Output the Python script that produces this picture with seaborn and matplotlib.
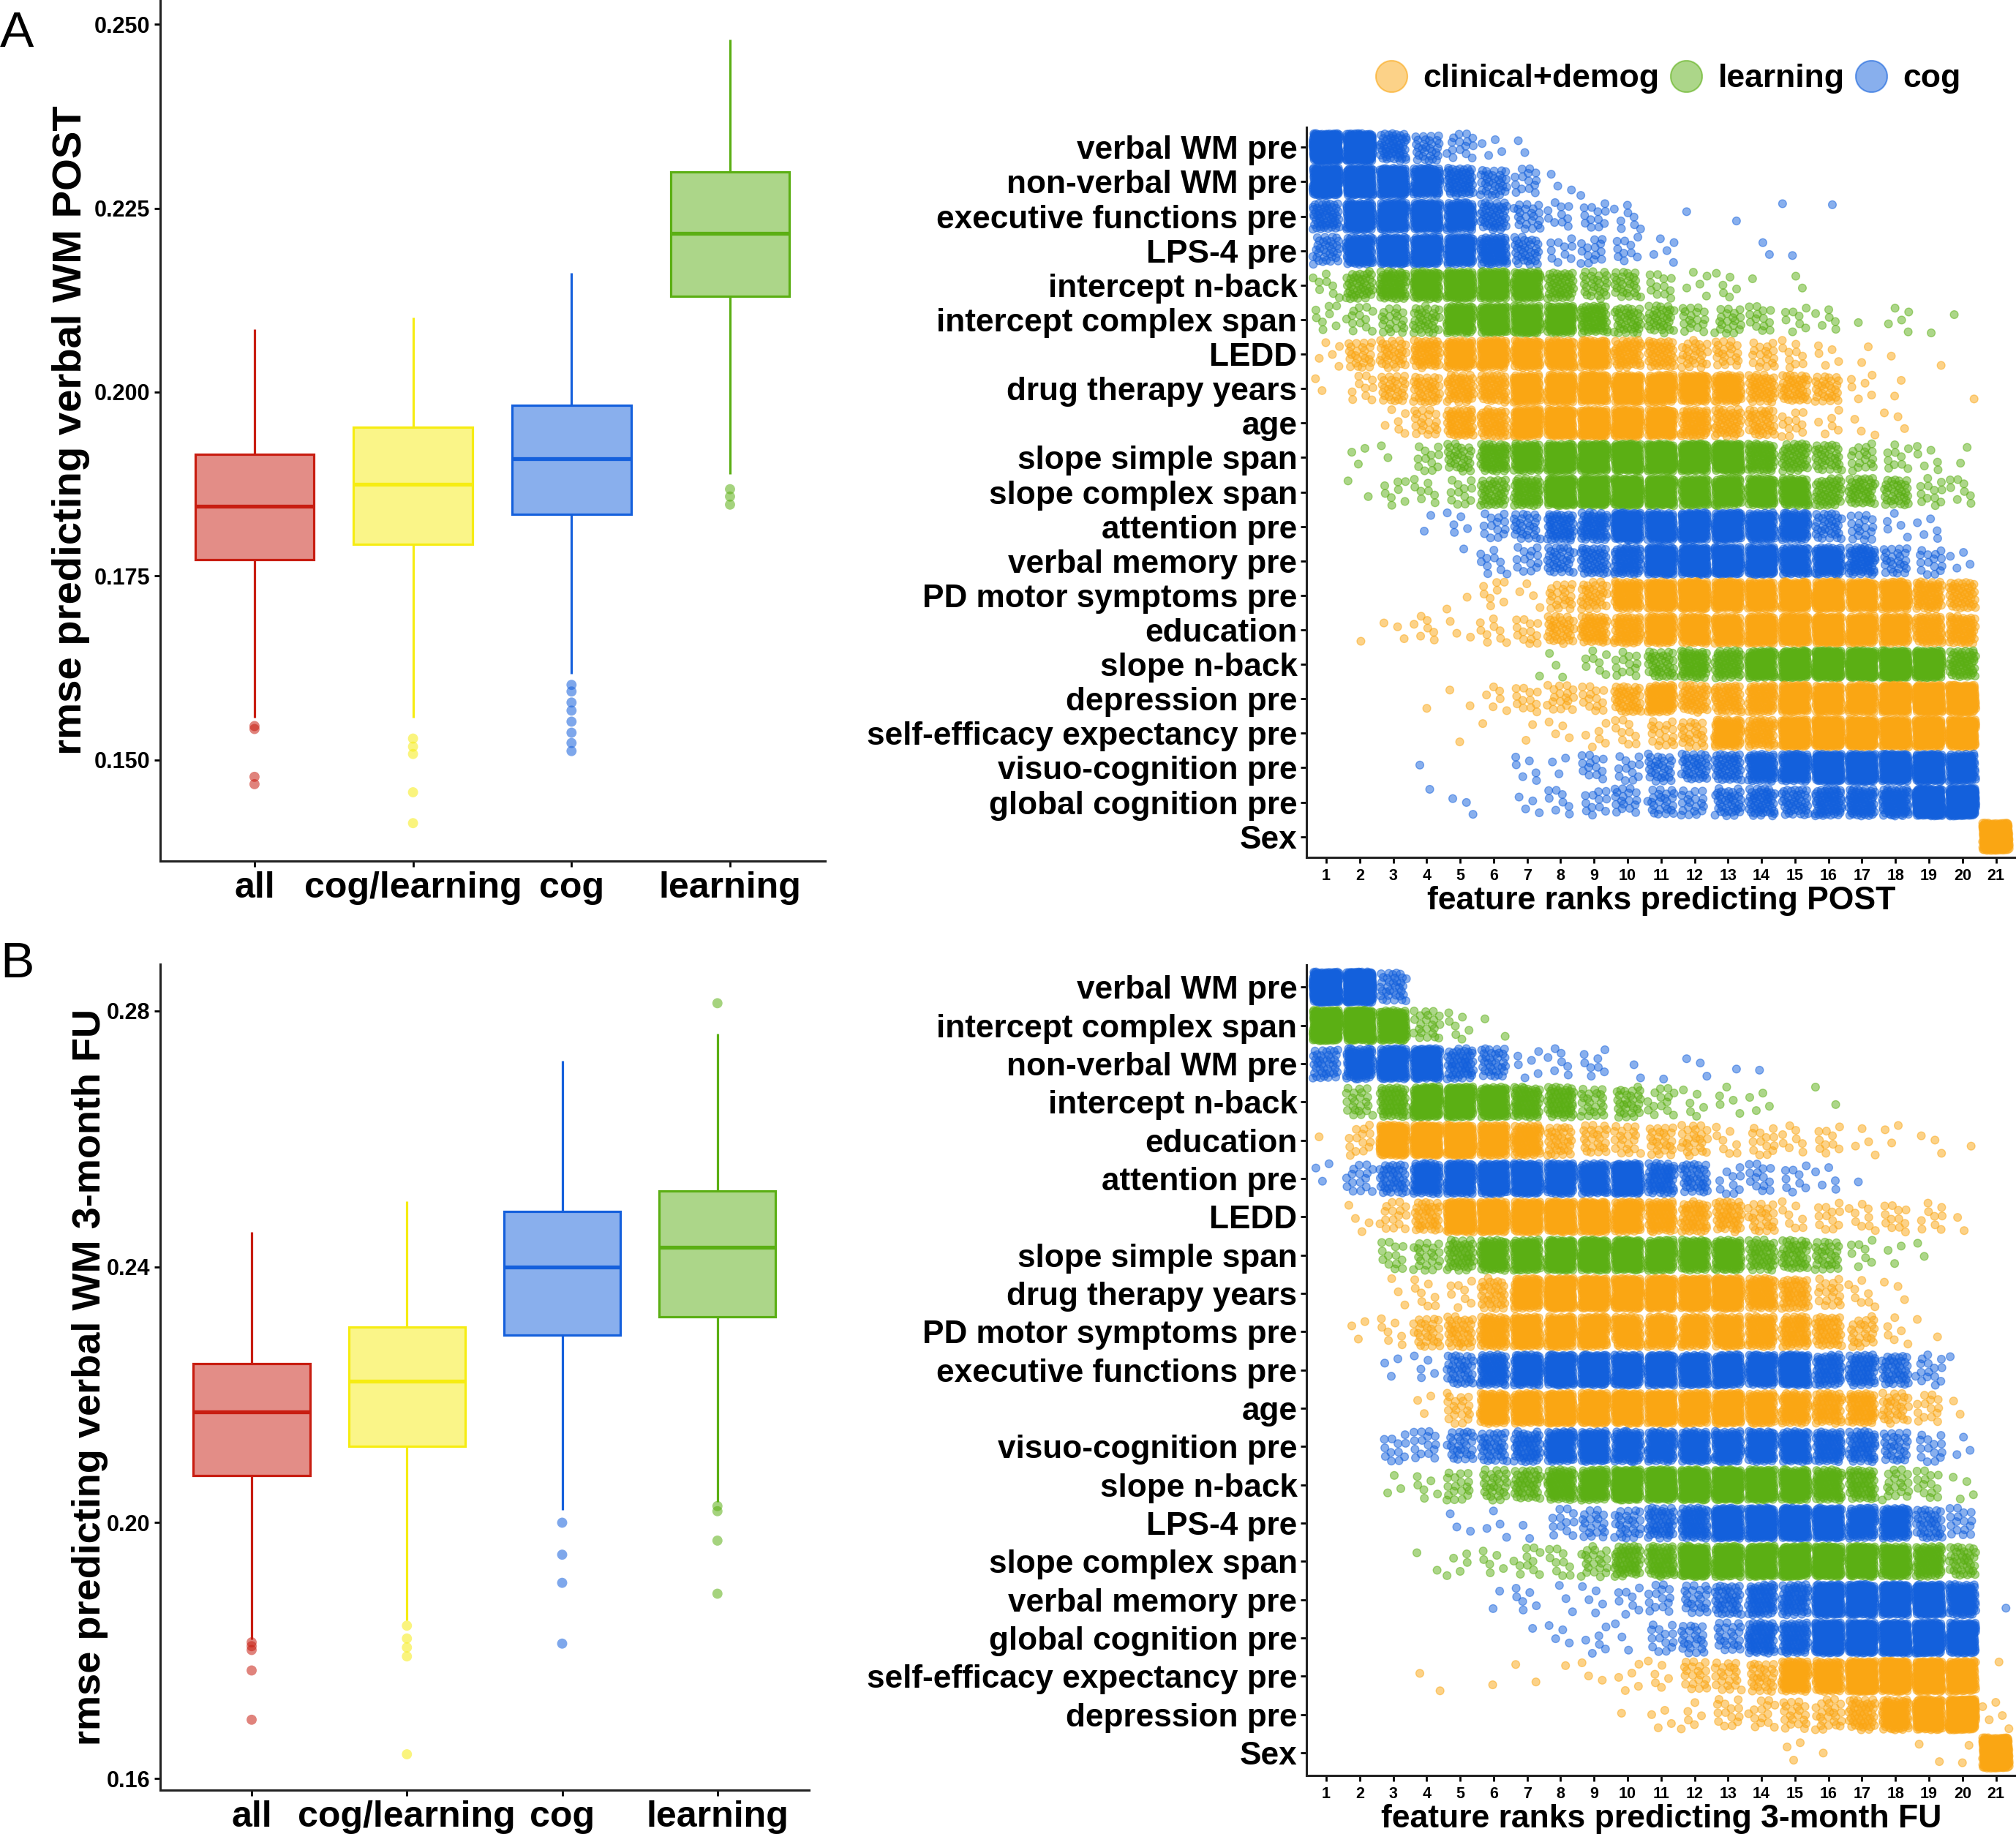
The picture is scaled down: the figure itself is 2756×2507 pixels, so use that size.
"""
rmse boxplots and feature rank plots for POST and 3-month FU.
Box stats and per-cell rank counts were read off the published figure. The
dots inside a rank cell only show the count: their spot in the cell is not data.
"""
import pandas as pd
import matplotlib
matplotlib.use('Agg')
import matplotlib.pyplot as plt
from matplotlib.colors import to_rgba
from matplotlib.lines import Line2D
import seaborn as sns


W, H = 2756, 2507

models = ['all', 'cog/learning', 'cog', 'learning']
model_colors = ['#C81D11', '#F6EC12', '#1560DC', '#5BAF14']

# low whisker, q1, median, q3, high whisker
post_all = [0.1557, 0.1772, 0.1845, 0.1915, 0.2085]
post_cog_learning = [0.1557, 0.1793, 0.1875, 0.1952, 0.2101]
post_cog = [0.1617, 0.1834, 0.1909, 0.1982, 0.2162]
post_learning = [0.1889, 0.2130, 0.2216, 0.2299, 0.2479]
fu_all = [0.1817, 0.2074, 0.2173, 0.2249, 0.2454]
fu_cog_learning = [0.1847, 0.2119, 0.2221, 0.2306, 0.2503]
fu_cog = [0.2020, 0.2293, 0.2400, 0.2486, 0.2722]
fu_learning = [0.2032, 0.2322, 0.2430, 0.2519, 0.2764]

post_out_all = [0.1546, 0.1542, 0.1477, 0.1467]
post_out_cog_learning = [0.1529, 0.1518, 0.1508, 0.1456, 0.1414]
post_out_cog = [0.1602, 0.1593, 0.1578, 0.1567, 0.1552, 0.1537, 0.1523, 0.1512]
post_out_learning = [0.1868, 0.1858, 0.1847]
fu_out_all = [0.1813, 0.1807, 0.1801, 0.1769, 0.1692]
fu_out_cog_learning = [0.1839, 0.1819, 0.1805, 0.1791, 0.1638]
fu_out_cog = [0.2000, 0.1950, 0.1906, 0.1811]
fu_out_learning = [0.2812, 0.2026, 0.2018, 0.1972, 0.1889]

cog_features = ['verbal WM pre', 'non-verbal WM pre', 'executive functions pre',
                'LPS-4 pre', 'attention pre', 'verbal memory pre',
                'visuo-cognition pre', 'global cognition pre']
learning_features = ['intercept n-back', 'intercept complex span',
                     'slope simple span', 'slope complex span', 'slope n-back']

post_features = ['verbal WM pre', 'non-verbal WM pre', 'executive functions pre',
                 'LPS-4 pre', 'intercept n-back', 'intercept complex span',
                 'LEDD', 'drug therapy years', 'age', 'slope simple span',
                 'slope complex span', 'attention pre', 'verbal memory pre',
                 'PD motor symptoms pre', 'education', 'slope n-back',
                 'depression pre', 'self-efficacy expectancy pre',
                 'visuo-cognition pre', 'global cognition pre', 'Sex']
fu_features = ['verbal WM pre', 'intercept complex span', 'non-verbal WM pre',
               'intercept n-back', 'education', 'attention pre', 'LEDD',
               'slope simple span', 'drug therapy years',
               'PD motor symptoms pre', 'executive functions pre', 'age',
               'visuo-cognition pre', 'slope n-back', 'LPS-4 pre',
               'slope complex span', 'verbal memory pre', 'global cognition pre',
               'self-efficacy expectancy pre', 'depression pre', 'Sex']

# how many runs fell on rank 1..21
p_verbal_wm = [300, 250, 60, 30, 15, 4, 2, 0, 0, 0, 0, 0, 0, 0, 0, 0, 0, 0, 0, 0, 0]
p_nonverbal_wm = [220, 200, 170, 120, 65, 35, 14, 3, 1, 0, 0, 0, 0, 0, 0, 0, 0, 0, 0, 0, 0]
p_executive = [60, 150, 150, 150, 110, 50, 22, 10, 12, 8, 0, 1, 1, 0, 1, 1, 0, 0, 0, 0, 0]
p_lps4 = [35, 110, 150, 150, 130, 90, 35, 10, 14, 10, 5, 0, 0, 2, 1, 0, 0, 0, 0, 0, 0]
p_int_nback = [8, 45, 80, 110, 140, 140, 110, 50, 28, 28, 12, 5, 6, 1, 2, 0, 0, 0, 0, 0, 0]
p_int_complex = [8, 13, 20, 35, 110, 130, 130, 120, 70, 40, 35, 18, 20, 14, 8, 6, 1, 5, 1, 1, 0]
p_ledd = [5, 25, 35, 60, 100, 120, 110, 110, 110, 60, 50, 28, 22, 18, 10, 5, 2, 1, 1, 0, 0]
p_drug_years = [2, 10, 30, 40, 55, 60, 120, 130, 140, 140, 120, 110, 90, 50, 45, 30, 6, 2, 0, 1, 0]
p_age = [0, 0, 6, 20, 60, 60, 140, 150, 150, 150, 130, 70, 50, 40, 12, 6, 3, 3, 0, 0, 0]
p_slope_simple = [0, 3, 2, 12, 30, 75, 100, 150, 170, 170, 170, 170, 170, 80, 50, 35, 18, 10, 6, 2, 0]
p_slope_complex = [0, 2, 8, 8, 12, 45, 70, 160, 170, 170, 170, 120, 120, 120, 100, 50, 45, 35, 12, 8, 0]
p_attention = [0, 0, 0, 2, 5, 14, 28, 60, 70, 160, 130, 170, 160, 110, 100, 35, 18, 5, 5, 0, 0]
p_verbal_memory = [0, 0, 0, 0, 1, 10, 14, 35, 50, 80, 160, 170, 170, 170, 110, 100, 70, 25, 15, 4, 0]
p_pd_motor = [0, 0, 0, 0, 2, 8, 4, 22, 35, 90, 130, 170, 150, 130, 170, 170, 130, 120, 70, 50, 0]
p_education = [0, 1, 3, 7, 3, 9, 13, 38, 60, 70, 110, 110, 110, 150, 150, 170, 130, 120, 80, 70, 0]
p_slope_nback = [0, 0, 0, 0, 0, 0, 1, 3, 8, 13, 40, 70, 65, 130, 170, 200, 200, 200, 170, 60, 0]
p_depression = [0, 0, 0, 1, 2, 6, 12, 18, 14, 45, 90, 50, 60, 80, 140, 130, 130, 200, 200, 200, 0]
p_self_efficacy = [0, 0, 0, 0, 1, 1, 2, 4, 6, 10, 18, 24, 100, 70, 170, 200, 200, 170, 200, 200, 0]
p_visuo = [0, 0, 0, 1, 0, 0, 6, 3, 13, 12, 30, 40, 50, 90, 120, 190, 200, 200, 200, 130, 0]
p_global = [0, 0, 0, 1, 3, 0, 4, 8, 12, 18, 25, 20, 40, 55, 45, 75, 80, 90, 250, 300, 0]
p_sex = [0, 0, 0, 0, 0, 0, 0, 0, 0, 0, 0, 0, 0, 0, 0, 0, 0, 0, 0, 0, 300]

f_verbal_wm = [300, 300, 35, 0, 0, 0, 0, 0, 0, 0, 0, 0, 0, 0, 0, 0, 0, 0, 0, 0, 0]
f_int_complex = [250, 250, 150, 22, 7, 2, 0, 0, 0, 0, 0, 0, 0, 0, 0, 0, 0, 0, 0, 0, 0]
f_nonverbal_wm = [40, 110, 170, 170, 55, 35, 6, 7, 8, 2, 1, 3, 1, 1, 0, 0, 0, 0, 0, 0, 0]
f_int_nback = [0, 22, 65, 170, 170, 130, 80, 65, 25, 30, 14, 6, 5, 4, 0, 2, 0, 0, 0, 0, 0]
f_education = [1, 14, 170, 200, 200, 140, 90, 35, 25, 20, 25, 25, 8, 14, 8, 10, 4, 3, 3, 1, 0]
f_attention = [3, 16, 45, 110, 150, 170, 170, 140, 110, 170, 70, 40, 10, 14, 9, 5, 1, 0, 0, 0, 0]
f_ledd = [0, 4, 16, 40, 170, 170, 170, 170, 170, 120, 80, 55, 45, 25, 8, 12, 9, 12, 9, 2, 0]
f_slope_simple = [0, 0, 13, 22, 50, 100, 120, 170, 170, 170, 130, 110, 110, 50, 45, 30, 8, 3, 2, 0, 0]
f_drug_years = [0, 0, 3, 8, 8, 35, 120, 200, 170, 170, 170, 170, 170, 90, 55, 18, 8, 3, 0, 0, 0]
f_pd_motor = [0, 3, 7, 28, 40, 90, 130, 130, 130, 100, 100, 100, 110, 90, 70, 50, 25, 6, 2, 0, 0]
f_executive = [0, 0, 3, 5, 40, 90, 130, 170, 170, 150, 160, 140, 150, 130, 170, 70, 65, 45, 15, 1, 0]
f_age = [0, 0, 0, 3, 20, 110, 120, 170, 170, 170, 170, 150, 170, 110, 90, 70, 70, 30, 14, 2, 0]
f_visuo = [0, 0, 12, 15, 30, 40, 60, 110, 120, 100, 100, 110, 110, 110, 110, 80, 60, 30, 14, 3, 0]
f_slope_nback = [0, 0, 3, 6, 18, 30, 45, 90, 110, 170, 170, 170, 190, 170, 140, 90, 60, 20, 14, 4, 0]
f_lps4 = [0, 0, 0, 0, 3, 4, 2, 12, 20, 28, 55, 85, 170, 190, 200, 170, 110, 110, 40, 16, 0]
f_slope_complex = [0, 0, 0, 2, 5, 6, 11, 10, 22, 60, 70, 150, 140, 180, 200, 190, 170, 130, 90, 40, 0]
f_verbal_memory = [0, 0, 0, 0, 0, 2, 6, 3, 5, 8, 14, 24, 45, 75, 70, 190, 200, 200, 200, 110, 1]
f_global = [0, 0, 0, 0, 0, 0, 1, 4, 6, 3, 14, 24, 24, 80, 80, 190, 220, 220, 220, 180, 0]
f_self_efficacy = [0, 0, 0, 2, 0, 1, 2, 1, 3, 5, 6, 20, 22, 30, 110, 110, 220, 220, 220, 170, 1]
f_depression = [0, 0, 0, 0, 0, 0, 0, 0, 0, 1, 4, 6, 14, 14, 20, 25, 50, 100, 190, 300, 5]
f_sex = [0, 0, 0, 0, 0, 0, 0, 0, 0, 0, 0, 0, 0, 0, 3, 1, 0, 0, 2, 2, 300]

post_counts = [p_verbal_wm, p_nonverbal_wm, p_executive, p_lps4, p_int_nback,
               p_int_complex, p_ledd, p_drug_years, p_age, p_slope_simple,
               p_slope_complex, p_attention, p_verbal_memory, p_pd_motor,
               p_education, p_slope_nback, p_depression, p_self_efficacy,
               p_visuo, p_global, p_sex]
fu_counts = [f_verbal_wm, f_int_complex, f_nonverbal_wm, f_int_nback, f_education,
             f_attention, f_ledd, f_slope_simple, f_drug_years, f_pd_motor,
             f_executive, f_age, f_visuo, f_slope_nback, f_lps4, f_slope_complex,
             f_verbal_memory, f_global, f_self_efficacy, f_depression, f_sex]

group_colors = {'clinical+demog': '#FAA613', 'learning': '#5BAF14', 'cog': '#1360DC'}

sns.set_style('white')
plt.rcParams['font.family'] = ['Liberation Sans', 'DejaVu Sans']
plt.rcParams['font.weight'] = 'bold'
plt.rcParams['text.color'] = 'black'
plt.rcParams['axes.labelcolor'] = 'black'
plt.rcParams['xtick.color'] = 'black'
plt.rcParams['ytick.color'] = 'black'


def add_axes(fig, left, top, right, bottom):
    return fig.add_axes([left / W, 1 - bottom / H,
                         (right - left) / W, (bottom - top) / H])


def style_axes(ax):
    sns.despine(ax=ax)
    for side in ['left', 'bottom']:
        ax.spines[side].set_linewidth(2.2)
        ax.spines[side].set_color('#222222')


def group_of(feature):
    if feature in cog_features:
        return 'cog'
    if feature in learning_features:
        return 'learning'
    return 'clinical+demog'


def box_panel(ax, boxes, outliers, ylim, yticks, yfmt, xlim, ylabel, label_x, label_size):
    for model, stats, color in zip(models, boxes, model_colors):
        sub = pd.DataFrame({'model': model, 'rmse': stats})
        sns.boxplot(data=sub, x='model', y='rmse', order=models, ax=ax,
                    color=color, linecolor=color, saturation=1, width=0.75,
                    whis=(0, 100), showcaps=False, showfliers=False,
                    linewidth=2.3,
                    boxprops={'facecolor': to_rgba(color, 0.5)},
                    medianprops={'linewidth': 3.8})
    rows = [(m, v) for m, vals in zip(models, outliers) for v in vals]
    out = pd.DataFrame(rows, columns=['model', 'rmse'])
    sns.stripplot(data=out, x='model', y='rmse', hue='model', order=models,
                  hue_order=models, palette=model_colors, jitter=False,
                  size=10, alpha=0.55, linewidth=0, legend=False, ax=ax)
    ax.set_xlim(*xlim)
    ax.set_ylim(*ylim)
    ax.set_yticks(yticks, [yfmt % t for t in yticks])
    ax.tick_params(axis='x', labelsize=36, length=6, width=2, pad=4, bottom=True)
    ax.tick_params(axis='y', labelsize=22, length=6, width=2, pad=4, left=True)
    ax.set_xlabel('')
    style_axes(ax)
    ax.set_ylabel(ylabel, fontsize=label_size, fontweight='bold')
    box = ax.get_window_extent()
    ax.yaxis.set_label_coords((label_x - box.x0) / box.width, 0.5)


def rank_frame(features, counts):
    # R2 low-discrepancy walk: spreads each count evenly over its cell
    g = 1.32471795724
    rows = []
    for i, (feature, row) in enumerate(zip(features, counts)):
        group = group_of(feature)
        for j, n in enumerate(row):
            start = (0.37 * i + 0.61 * j) % 1
            for k in range(n):
                u = (start + (k + 1) / g) % 1
                v = (start * 1.7 + (k + 1) / g ** 2) % 1
                rows.append((j + 1 + (u - 0.5) * 0.8, i + (v - 0.5) * 0.8, group))
    return pd.DataFrame(rows, columns=['rank', 'row', 'group'])


def rank_panel(ax, features, counts, ylim, xlabel):
    df = rank_frame(features, counts)
    sns.scatterplot(data=df, x='rank', y='row', hue='group', palette=group_colors,
                    s=60, alpha=0.5, linewidth=1, edgecolor='face', legend=False,
                    ax=ax)
    ax.set_xlim(0.41, 21.6)
    ax.set_ylim(*ylim)
    ax.set_xticks(range(1, 22), [str(r) for r in range(1, 22)])
    ax.set_yticks(range(len(features)), features)
    ax.tick_params(axis='x', labelsize=15.5, length=6, width=2, pad=5, bottom=True)
    ax.tick_params(axis='y', labelsize=31.8, length=6, width=2, pad=3, left=True)
    ax.set_ylabel('')
    ax.set_xlabel(xlabel, fontsize=32, fontweight='bold', labelpad=2)
    style_axes(ax)


fig = plt.figure(figsize=(W / 100, H / 100), dpi=100, facecolor='white')

ax_a = add_axes(fig, 219, 0, 1128, 1177)
box_panel(ax_a, [post_all, post_cog_learning, post_cog, post_learning],
          [post_out_all, post_out_cog_learning, post_out_cog, post_out_learning],
          (0.13625, 0.2533), [0.150, 0.175, 0.200, 0.225, 0.250], '%.3f',
          (-0.595, 3.6), 'rmse predicting verbal WM POST', 123, 40.5)

ax_b = add_axes(fig, 219, 1318, 1106, 2447)
box_panel(ax_b, [fu_all, fu_cog_learning, fu_cog, fu_learning],
          [fu_out_all, fu_out_cog_learning, fu_out_cog, fu_out_learning],
          (0.1582, 0.2873), [0.16, 0.20, 0.24, 0.28], '%.2f',
          (-0.589, 3.59), 'rmse predicting verbal WM 3-month FU', 148, 39)

ax_c = add_axes(fig, 1786, 174, 2756, 1172)
rank_panel(ax_c, post_features, post_counts, (20.6, -0.58),
           'feature ranks predicting POST')

ax_d = add_axes(fig, 1786, 1318.6, 2756, 2427)
rank_panel(ax_d, fu_features, fu_counts, (20.59, -0.59),
           'feature ranks predicting 3-month FU')

handles = [Line2D([], [], linestyle='', marker='o', markersize=31,
                  markerfacecolor=to_rgba(c, 0.5), markeredgecolor=to_rgba(c, 0.6),
                  markeredgewidth=1.5, label=name)
           for name, c in group_colors.items()]
fig.legend(handles=handles, ncol=3, frameon=False, loc='center left',
           bbox_to_anchor=(1879 / W, 1 - 108 / H), borderpad=0, borderaxespad=0,
           handlelength=1.05, handletextpad=0.45, columnspacing=0.3,
           prop={'size': 32, 'weight': 'bold'})

fig.text(0 / W, 1 - 64 / H, 'A', fontsize=50, fontweight='normal', ha='left', va='baseline')
fig.text(0 / W, 1 - 1336 / H, 'B', fontsize=50, fontweight='normal', ha='left', va='baseline')

fig.savefig('out.png', dpi=100)
